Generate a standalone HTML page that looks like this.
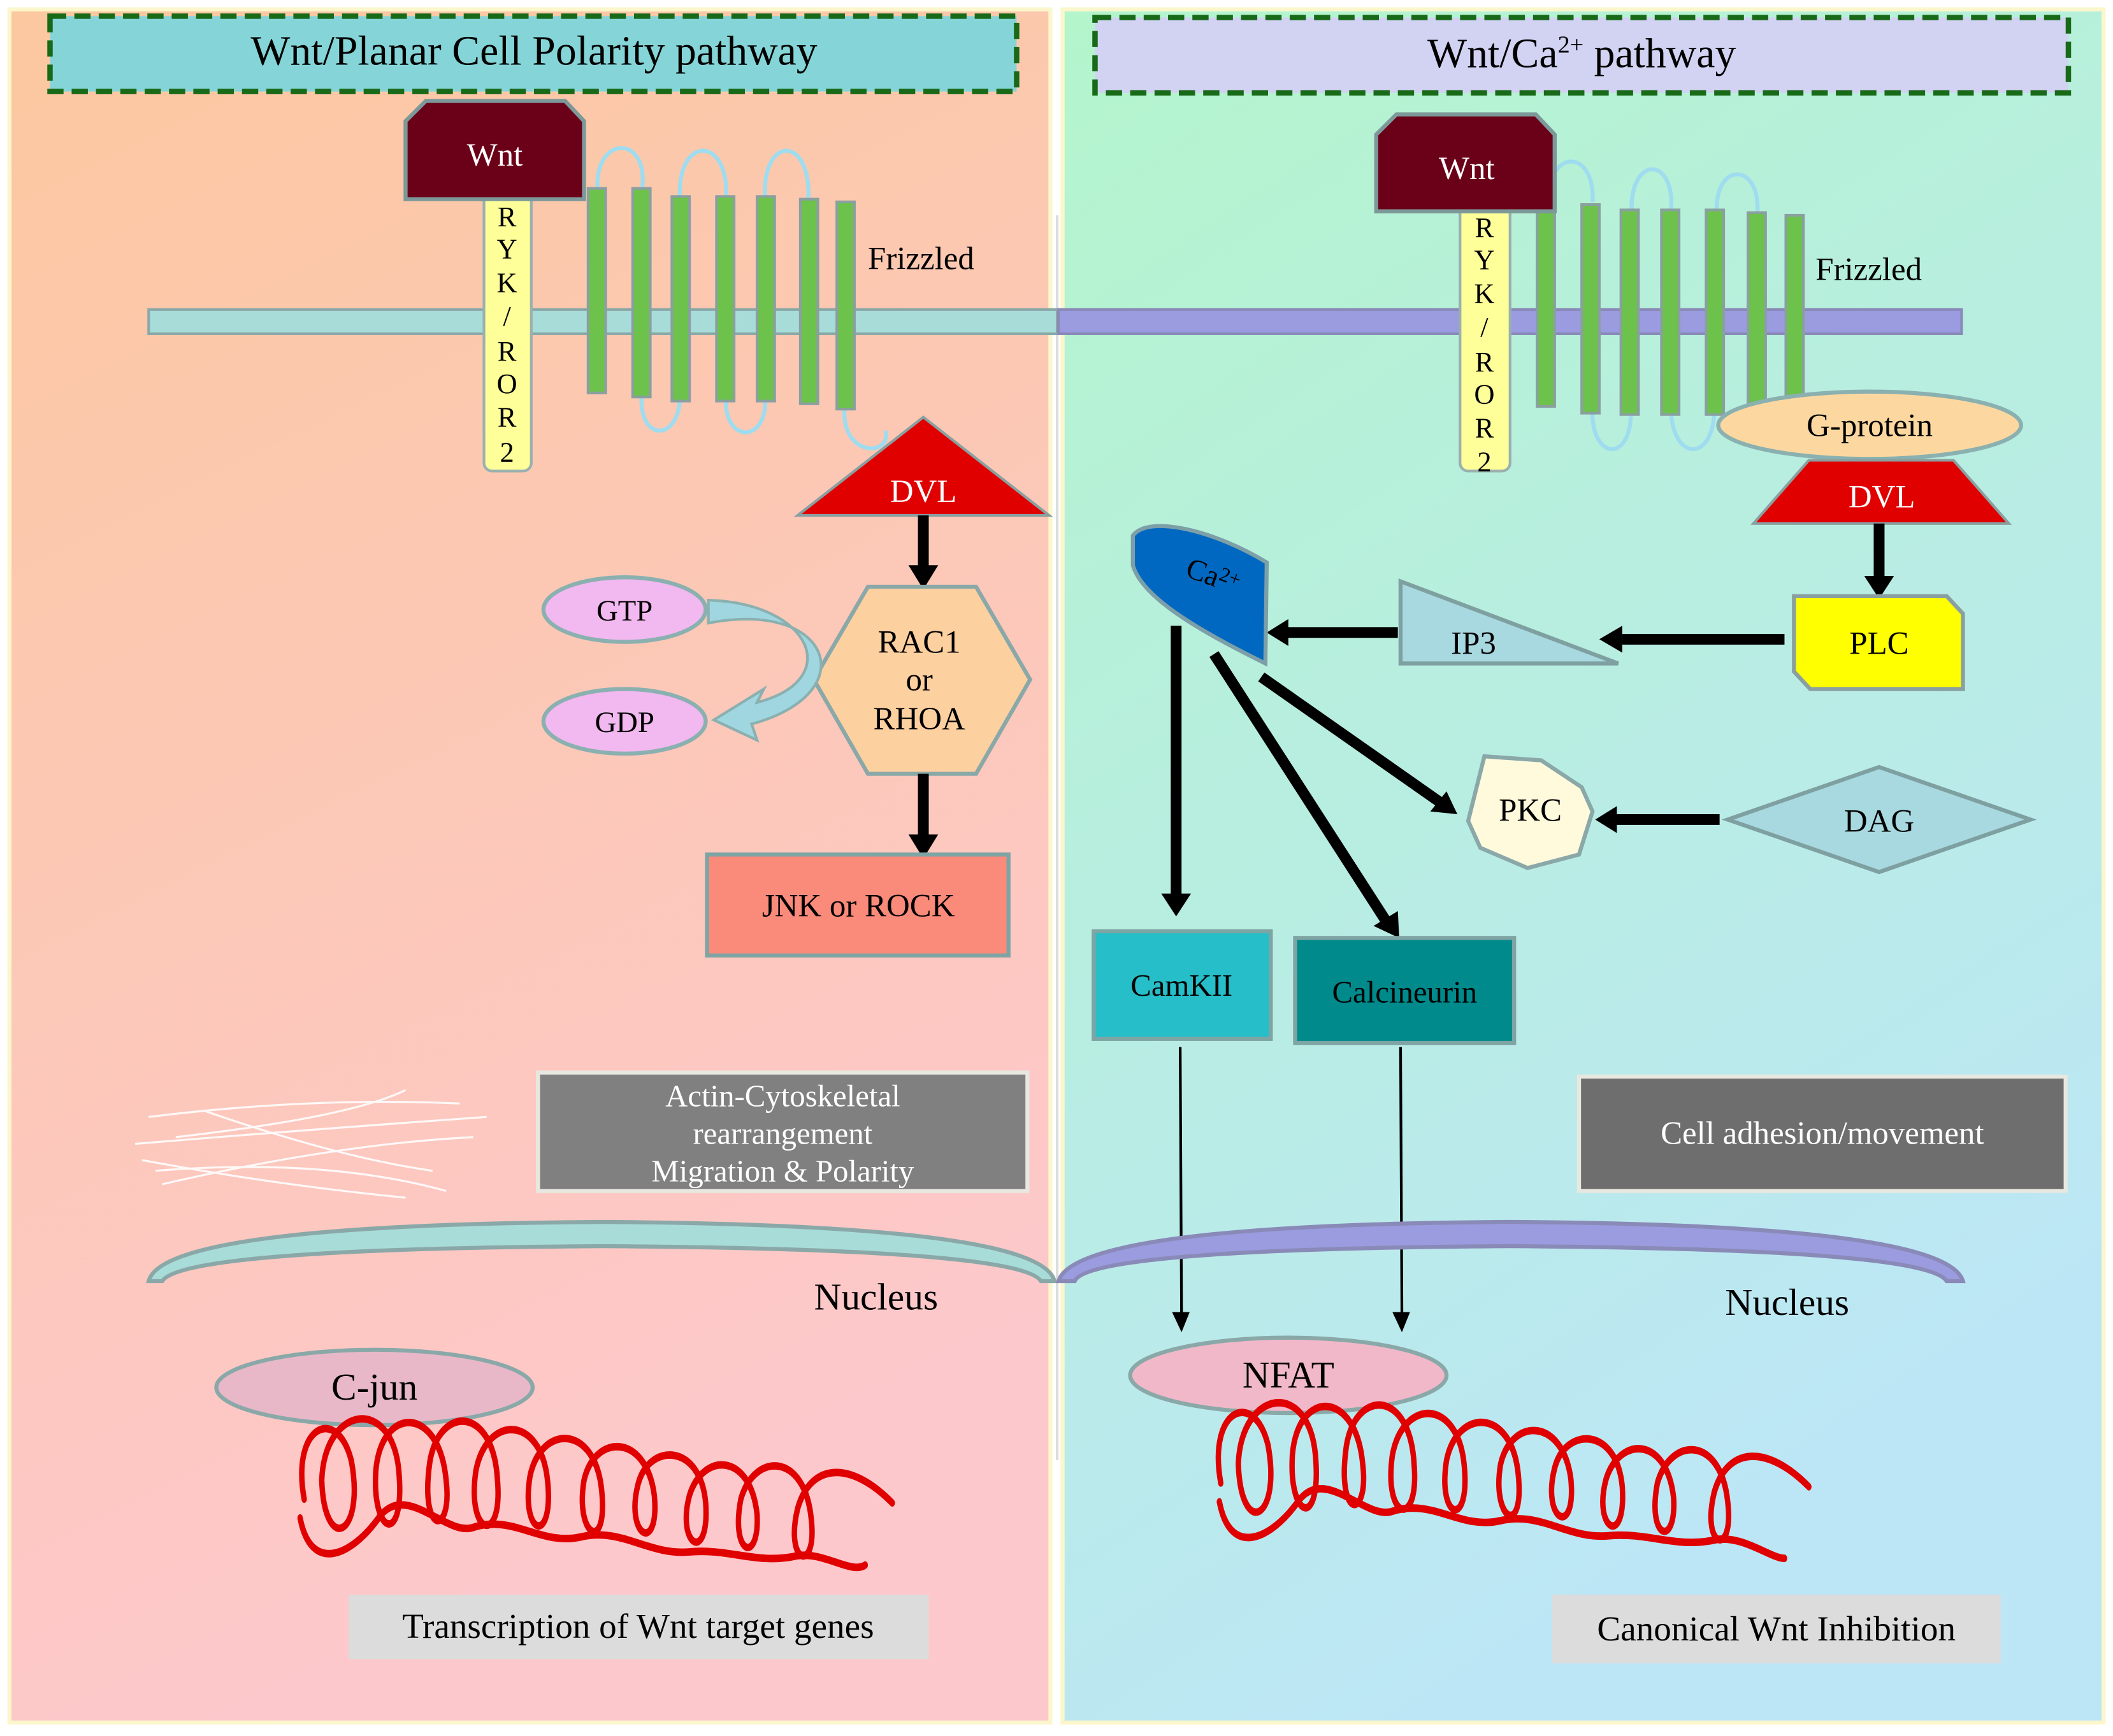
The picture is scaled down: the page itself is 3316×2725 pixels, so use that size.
<!DOCTYPE html>
<html><head><meta charset="utf-8"><style>
html,body{margin:0;padding:0;background:#fff}
svg{display:block}
text{font-family:"Liberation Serif",serif;}
</style></head><body>
<svg width="3316" height="2725" viewBox="0 0 1563 1290" preserveAspectRatio="none" xmlns="http://www.w3.org/2000/svg">
<defs>
<linearGradient id="lg" x1="0" y1="0" x2="0.3" y2="1"><stop offset="0" stop-color="#fcc8a0"/><stop offset="1" stop-color="#fdc8cc"/></linearGradient>
<linearGradient id="rg" x1="0" y1="0" x2="0.4" y2="1"><stop offset="0" stop-color="#b4f5cc"/><stop offset="1" stop-color="#bce6f6"/></linearGradient>
</defs>
<rect x="0" y="0" width="1563" height="1290" fill="#fff"/>
<rect x="7" y="7" width="770" height="1273" fill="url(#lg)" stroke="#fbf6cc" stroke-width="3"/>
<rect x="786" y="7" width="770" height="1273" fill="url(#rg)" stroke="#fbf6cc" stroke-width="3"/>
<line x1="782" y1="160" x2="782" y2="1085" stroke="#ddd" stroke-width="2"/>

<rect x="37" y="12" width="715" height="56" fill="#85d5d8" stroke="#186a18" stroke-width="4" stroke-dasharray="12,6"/>
<text x="395" y="48" font-size="31" text-anchor="middle">Wnt/Planar Cell Polarity pathway</text>
<rect x="810" y="13" width="720" height="56" fill="#d2d2f2" stroke="#186a18" stroke-width="4" stroke-dasharray="12,6"/>
<text x="1170" y="50" font-size="31" text-anchor="middle">Wnt/Ca<tspan font-size="18" dy="-11">2+</tspan><tspan dy="11"> pathway</tspan></text>

<rect x="110" y="230" width="672" height="18" fill="#a8dcd8" stroke="#8aa8a8" stroke-width="2"/>
<rect x="783" y="230" width="668" height="18" fill="#9b9be0" stroke="#8a8ab8" stroke-width="2"/>

<g fill="none" stroke="#9fdcef" stroke-width="3">
<path d="M442,140 C440,100 480,100 475,140"/><path d="M503,148 C500,100 540,100 537,148"/><path d="M566,148 C563,100 600,100 598,148"/>
<path d="M475,290 C470,330 505,330 503,290"/><path d="M537,295 C535,330 568,330 566,295"/><path d="M625,300 C620,340 660,340 655,320"/>
</g>
<g fill="#6cc24a" stroke="#8aa0a0" stroke-width="2">
<rect x="435" y="140" width="13" height="152"/><rect x="468" y="140" width="13" height="155"/><rect x="497" y="146" width="13" height="152"/>
<rect x="530" y="146" width="13" height="152"/><rect x="560" y="146" width="13" height="152"/><rect x="592" y="148" width="13" height="152"/><rect x="619" y="150" width="13" height="154"/>
</g>
<rect x="358" y="142" width="35" height="208" rx="6" fill="#ffff99" stroke="#9ab0b0" stroke-width="2"/>
<g font-size="21" text-anchor="middle"><text x="375" y="168">R</text><text x="375" y="192">Y</text><text x="375" y="217">K</text><text x="375" y="242">/</text><text x="375" y="268">R</text><text x="375" y="292">O</text><text x="375" y="317">R</text><text x="375" y="343">2</text></g>
<path d="M300,90 L315,75 L418,75 L432,90 L432,148 L300,148 Z" fill="#6b0019" stroke="#7c9898" stroke-width="3"/>
<text x="366" y="123" font-size="24" fill="#fff" text-anchor="middle">Wnt</text>
<text x="642" y="200" font-size="24">Frizzled</text>

<path d="M590,383 L683,310 L776,383 Z" fill="#e00000" stroke="#8aa0a0" stroke-width="2"/>
<text x="683" y="373" font-size="24" fill="#fff" text-anchor="middle">DVL</text>
<line x1="683" y1="383" x2="683" y2="422" stroke="#000" stroke-width="8"/><path d="M672,420 L694,420 L683,438 Z"/>

<path d="M642,436 L722,436 L762,505 L722,575 L642,575 L602,505 Z" fill="#fdd0a0" stroke="#8aa8a8" stroke-width="3"/>
<text x="680" y="485" font-size="24" text-anchor="middle">RAC1</text><text x="680" y="513" font-size="24" text-anchor="middle">or</text><text x="680" y="542" font-size="24" text-anchor="middle">RHOA</text>
<line x1="683" y1="575" x2="683" y2="622" stroke="#000" stroke-width="8"/><path d="M672,620 L694,620 L683,638 Z"/>
<rect x="523" y="635" width="223" height="75" fill="#fa8a7a" stroke="#7ea4a4" stroke-width="3"/>
<text x="635" y="681" font-size="24" text-anchor="middle">JNK or ROCK</text>

<ellipse cx="462" cy="453" rx="60" ry="24" fill="#f2b8f0" stroke="#8ab0b0" stroke-width="3"/>
<text x="462" y="461" font-size="22" text-anchor="middle">GTP</text>
<ellipse cx="462" cy="536" rx="60" ry="24" fill="#f2b8f0" stroke="#8ab0b0" stroke-width="3"/>
<text x="462" y="544" font-size="22" text-anchor="middle">GDP</text>
<path d="M524,446 C600,448 625,505 560,522 L565,512 L528,535 L560,550 L556,538 C640,515 615,445 524,463 Z" fill="#a0d6e0" stroke="#8ab0b0" stroke-width="2"/>

<g stroke="#fff" stroke-width="1.5" fill="none" opacity="0.9">
<path d="M110,830 Q230,815 340,820"/><path d="M100,850 Q220,840 360,830"/><path d="M115,870 Q240,860 330,885"/><path d="M105,862 Q200,880 300,890"/><path d="M130,845 Q260,830 300,810"/><path d="M120,880 Q250,850 350,845"/><path d="M150,825 Q250,860 320,870"/>
</g>
<rect x="398" y="797" width="362" height="88" fill="#808080" stroke="#e8e8e0" stroke-width="3"/>
<text x="579" y="822" font-size="23" fill="#fff" text-anchor="middle">Actin-Cytoskeletal</text>
<text x="579" y="850" font-size="23" fill="#fff" text-anchor="middle">rearrangement</text>
<text x="579" y="878" font-size="23" fill="#fff" text-anchor="middle">Migration &amp; Polarity</text>

<path d="M110,952 Q120,910 445,908 Q770,910 780,952 L770,952 Q755,928 445,926 Q135,928 120,952 Z" fill="#a8dcd8" stroke="#8aa8a8" stroke-width="3"/>
<text x="648" y="973" font-size="28" text-anchor="middle">Nucleus</text>
<ellipse cx="277" cy="1031" rx="117" ry="28" fill="#e8b8c8" stroke="#8aa8a8" stroke-width="3"/>
<text x="277" y="1040" font-size="28" text-anchor="middle">C-jun</text>

<g fill="none" stroke="#e00000" stroke-width="4" stroke-linecap="round" transform="translate(0,1100) scale(1,1.4) translate(0,-1100)">
<path id="dna" d="M225,1110 C215,1070 250,1060 260,1090 C270,1130 240,1140 238,1100 C240,1060 290,1055 295,1095 C300,1135 275,1130 278,1095 C282,1060 325,1060 330,1100 C335,1130 310,1130 318,1090 C325,1060 365,1060 368,1100 C372,1135 345,1130 352,1095 C360,1065 400,1065 405,1100 C410,1135 385,1130 392,1098 C400,1070 440,1070 445,1105 C450,1140 425,1130 432,1100 C440,1075 478,1075 484,1108 C488,1140 462,1130 472,1102 C480,1080 518,1080 522,1112 C525,1145 500,1135 510,1108 C520,1085 555,1085 560,1118 C562,1145 540,1140 548,1110 C558,1085 595,1085 600,1120 C605,1150 580,1145 590,1115 C600,1090 630,1090 660,1112"/>
<path d="M222,1120 C230,1150 260,1140 280,1120 C300,1100 330,1130 350,1125 C380,1118 400,1135 430,1130 C460,1125 480,1140 510,1138 C540,1136 560,1145 590,1140 C610,1138 630,1150 640,1145"/>
</g>
<rect x="258" y="1185" width="429" height="48" fill="#dcdcdc"/>
<text x="472" y="1217" font-size="26" text-anchor="middle">Transcription of Wnt target genes</text>

<g fill="none" stroke="#9fdcef" stroke-width="3">
<path d="M1145,150 C1145,110 1180,110 1178,150"/><path d="M1207,158 C1205,115 1240,115 1236,158"/><path d="M1270,158 C1268,120 1302,120 1300,158"/>
<path d="M1178,300 C1175,345 1210,345 1206,300"/><path d="M1236,300 C1235,345 1270,345 1268,300"/>
</g>
<g fill="#6cc24a" stroke="#8aa0a0" stroke-width="2">
<rect x="1137" y="150" width="13" height="152"/><rect x="1170" y="152" width="13" height="155"/><rect x="1199" y="156" width="13" height="152"/>
<rect x="1229" y="156" width="13" height="152"/><rect x="1262" y="156" width="13" height="152"/><rect x="1293" y="158" width="13" height="150"/><rect x="1321" y="160" width="13" height="145"/>
</g>
<rect x="1080" y="150" width="37" height="200" rx="6" fill="#ffff99" stroke="#9ab0b0" stroke-width="2"/>
<g font-size="21" text-anchor="middle"><text x="1098" y="176">R</text><text x="1098" y="200">Y</text><text x="1098" y="225">K</text><text x="1098" y="250">/</text><text x="1098" y="276">R</text><text x="1098" y="300">O</text><text x="1098" y="325">R</text><text x="1098" y="350">2</text></g>
<path d="M1018,100 L1033,85 L1136,85 L1150,100 L1150,157 L1018,157 Z" fill="#6b0019" stroke="#7c9898" stroke-width="3"/>
<text x="1085" y="133" font-size="24" fill="#fff" text-anchor="middle">Wnt</text>
<text x="1343" y="208" font-size="24">Frizzled</text>

<ellipse cx="1383" cy="316" rx="112" ry="25" fill="#fcd8a0" stroke="#8ab0b0" stroke-width="3"/>
<text x="1383" y="324" font-size="24" text-anchor="middle">G-protein</text>
<path d="M1297,389 L1338,342 L1445,342 L1486,389 Z" fill="#e00000" stroke="#8aa0a0" stroke-width="2"/>
<text x="1392" y="377" font-size="24" fill="#fff" text-anchor="middle">DVL</text>
<line x1="1390" y1="389" x2="1390" y2="430" stroke="#000" stroke-width="8"/><path d="M1379,428 L1401,428 L1390,445 Z"/>
<path d="M1327,443 L1440,443 L1452,456 L1452,512 L1339,512 L1327,499 Z" fill="#ffff00" stroke="#8aa0a0" stroke-width="3"/>
<text x="1390" y="486" font-size="24" text-anchor="middle">PLC</text>
<line x1="1320" y1="475" x2="1200" y2="475" stroke="#000" stroke-width="8"/><path d="M1200,465 L1200,485 L1183,475 Z"/>
<path d="M1036,432 L1036,493 L1197,493 Z" fill="#a8d8e0" stroke="#7ea0a0" stroke-width="3"/>
<text x="1090" y="486" font-size="24" text-anchor="middle">IP3</text>
<line x1="1034" y1="470" x2="952" y2="470" stroke="#000" stroke-width="8"/><path d="M953,460 L953,480 L937,470 Z"/>

<path d="M838,398 C850,382 900,395 937,418 L936,493 C890,470 845,445 838,420 Z" fill="#0068c0" stroke="#7c9fa8" stroke-width="3"/>
<text x="875" y="433" font-size="22" transform="rotate(20 890 433)">Ca<tspan font-size="15" dy="-6">2+</tspan></text>

<g stroke="#000" stroke-width="8">
<line x1="870" y1="465" x2="870" y2="665"/>
<line x1="898" y1="486" x2="1025" y2="684"/>
<line x1="933" y1="503" x2="1065" y2="596"/>
</g>
<path d="M859,664 L881,664 L870,681 Z"/>
<path d="M1016,688 L1034,677 L1035,697 Z"/>
<path d="M1058,603 L1070,588 L1078,605 Z"/>

<path d="M1098,562 L1140,565 L1170,585 L1178,603 L1168,635 L1130,645 L1095,630 L1086,610 Z" fill="#fffadc" stroke="#8aa8a8" stroke-width="3"/>
<text x="1132" y="610" font-size="24" text-anchor="middle">PKC</text>
<path d="M1278,609 L1390,570 L1502,609 L1390,648 Z" fill="#a8d8e0" stroke="#7ea0a0" stroke-width="3"/>
<text x="1390" y="618" font-size="24" text-anchor="middle">DAG</text>
<line x1="1272" y1="609" x2="1195" y2="609" stroke="#000" stroke-width="8"/><path d="M1196,599 L1196,619 L1180,609 Z"/>

<rect x="809" y="692" width="131" height="80" fill="#26bec8" stroke="#7ea4a4" stroke-width="3"/>
<text x="874" y="740" font-size="23" text-anchor="middle">CamKII</text>
<rect x="958" y="697" width="162" height="78" fill="#008a8c" stroke="#7ea4a4" stroke-width="3"/>
<text x="1039" y="745" font-size="23" text-anchor="middle">Calcineurin</text>
<line x1="873" y1="778" x2="874" y2="977" stroke="#000" stroke-width="2"/><path d="M867,975 L880,975 L874,990 Z"/>
<line x1="1036" y1="778" x2="1037" y2="977" stroke="#000" stroke-width="2"/><path d="M1030,975 L1043,975 L1037,990 Z"/>

<rect x="1168" y="800" width="360" height="85" fill="#6e6e6e" stroke="#e8e8e0" stroke-width="3"/>
<text x="1348" y="850" font-size="24" fill="#fff" text-anchor="middle">Cell adhesion/movement</text>

<path d="M783,952 Q795,910 1117,908 Q1440,910 1452,952 L1440,952 Q1425,928 1117,926 Q805,928 795,952 Z" fill="#9b9be0" stroke="#8a8ab8" stroke-width="3"/>
<text x="1322" y="977" font-size="28" text-anchor="middle">Nucleus</text>
<ellipse cx="953" cy="1022" rx="117" ry="28" fill="#f0b8c8" stroke="#8aa8a8" stroke-width="3"/>
<text x="953" y="1031" font-size="28" text-anchor="middle">NFAT</text>
<g fill="none" stroke="#e00000" stroke-width="4" stroke-linecap="round" transform="translate(0,1095) scale(1,1.4) translate(0,-1095)">
<use href="#dna" transform="translate(678,-10)"/>
<path d="M902,1110 C910,1140 940,1130 960,1110 C980,1090 1010,1120 1030,1115 C1060,1108 1080,1125 1110,1120 C1140,1115 1160,1130 1190,1128 C1220,1126 1240,1135 1270,1130 C1290,1128 1310,1140 1320,1140"/>
</g>
<rect x="1148" y="1185" width="332" height="51" fill="#dcdcdc"/>
<text x="1314" y="1219" font-size="26" text-anchor="middle">Canonical Wnt Inhibition</text>
</svg>
</body></html>
